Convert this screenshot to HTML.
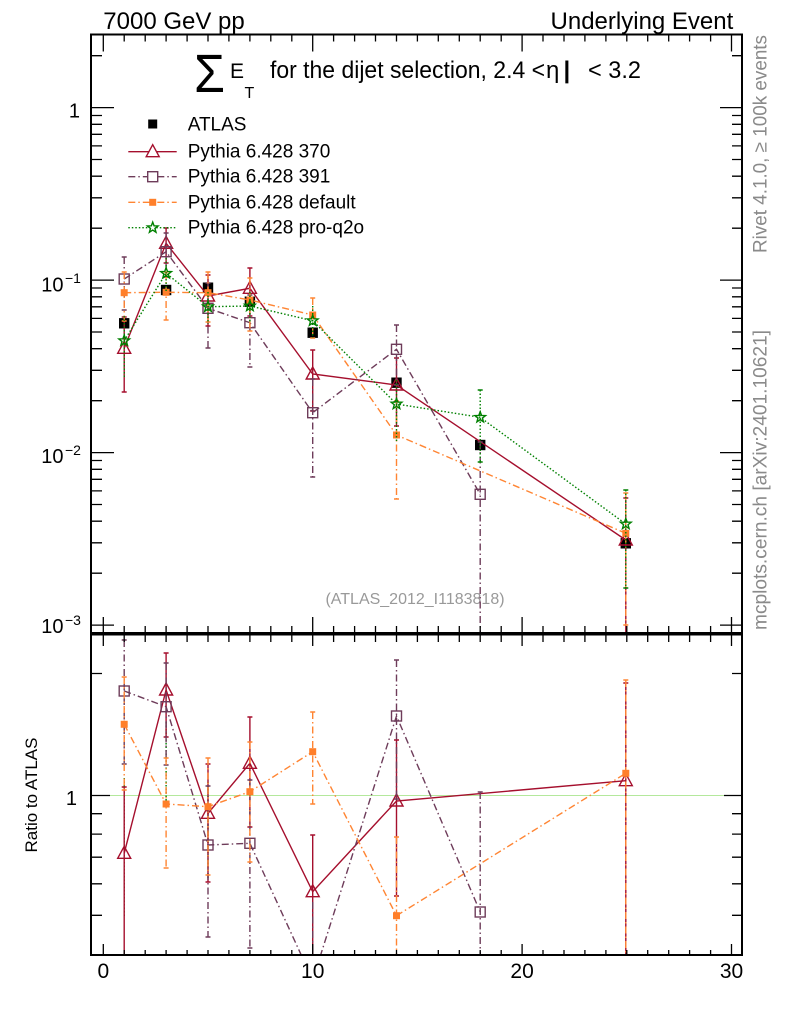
<!DOCTYPE html>
<html><head><meta charset="utf-8"><style>html,body{margin:0;padding:0;background:#fff;}svg{display:block;}</style></head>
<body>
<svg width="786" height="1024" viewBox="0 0 786 1024" xmlns="http://www.w3.org/2000/svg" font-family="'Liberation Sans', Arial, sans-serif">
<defs>
  <clipPath id="cm"><rect x="91" y="34.5" width="651" height="599"/></clipPath>
  <clipPath id="cr"><rect x="91" y="635" width="651" height="320"/></clipPath>
  <path id="tri" d="M0,-7 L6.5,5 L-6.5,5 Z"/>
  <rect id="osq" x="-5" y="-5" width="10" height="10"/>
  <rect id="fsq" x="-3.5" y="-3.5" width="7" height="7"/>
  <rect id="bsq" x="-5.2" y="-5.2" width="10.4" height="10.4"/>
  <path id="star" d="M0,-5.6 L1.37,-1.88 L5.33,-1.73 L2.22,0.72 L3.29,4.53 L0,2.33 L-3.29,4.53 L-2.22,0.72 L-5.33,-1.73 L-1.37,-1.88 Z"/>
</defs>
<rect width="786" height="1024" fill="#fff"/>

<!-- header texts -->
<text x="103.3" y="29" font-size="24" fill="#000">7000 GeV pp</text>
<text x="733.3" y="29" font-size="24" fill="#000" text-anchor="end">Underlying Event</text>

<!-- title -->
<text x="194" y="92" font-size="54" fill="#000" textLength="31" lengthAdjust="spacingAndGlyphs">Σ</text>
<text x="230" y="78" font-size="21" fill="#000">E</text>
<text x="244.5" y="98" font-size="16" fill="#000">T</text>
<text x="270" y="78" font-size="24" fill="#000" textLength="275" lengthAdjust="spacingAndGlyphs">for the dijet selection, 2.4 &lt;</text>
<text x="546" y="78" font-size="24" fill="#000">η</text>
<text x="563.5" y="78" font-size="24" fill="#000" font-weight="bold">|</text>
<text x="588" y="78" font-size="24" fill="#000" textLength="53" lengthAdjust="spacingAndGlyphs">&lt; 3.2</text>

<!-- right side texts -->
<text transform="translate(766.5,144) rotate(-90)" text-anchor="middle" font-size="19" fill="#8a8a8a" textLength="218" lengthAdjust="spacingAndGlyphs">Rivet 4.1.0, ≥ 100k events</text>
<text transform="translate(766.5,480) rotate(-90)" text-anchor="middle" font-size="19" fill="#8a8a8a" textLength="300" lengthAdjust="spacingAndGlyphs">mcplots.cern.ch [arXiv:2401.10621]</text>

<!-- ratio y label -->
<text transform="translate(37,795) rotate(-90)" text-anchor="middle" font-size="17" fill="#000">Ratio to ATLAS</text>

<!-- main y tick labels -->
<text x="80" y="117.3" font-size="20" text-anchor="end">1</text>
<text x="63.5" y="291.5" font-size="20" text-anchor="end">10</text>
<text x="65" y="283" font-size="14">−1</text>
<text x="63.5" y="463" font-size="20" text-anchor="end">10</text>
<text x="65" y="455" font-size="14">−2</text>
<text x="63.5" y="633" font-size="20" text-anchor="end">10</text>
<text x="65" y="625" font-size="14">−3</text>

<!-- ratio y label 1 -->
<text x="77" y="805" font-size="20" text-anchor="end">1</text>

<!-- x tick labels -->
<text x="103.3" y="978" font-size="21" text-anchor="middle">0</text>
<text x="312.7" y="978" font-size="21" text-anchor="middle">10</text>
<text x="522.1" y="978" font-size="21" text-anchor="middle">20</text>
<text x="731.5" y="978" font-size="21" text-anchor="middle">30</text>

<!-- reference text -->
<text x="415" y="604" font-size="16" fill="#999" text-anchor="middle">(ATLAS_2012_I1183818)</text>

<!-- ratio reference line -->
<line x1="91" y1="795.5" x2="742" y2="795.5" stroke="#b4e89c" stroke-width="1"/>

<!-- MAIN PANEL DATA -->
<g clip-path="url(#cm)">
  <!-- ATLAS -->
  <g fill="#000">
    <use href="#bsq" x="124.2" y="323.3"/>
    <use href="#bsq" x="166.1" y="290"/>
    <use href="#bsq" x="208" y="287.7"/>
    <use href="#bsq" x="249.9" y="301.7"/>
    <use href="#bsq" x="312.7" y="332.7"/>
    <use href="#bsq" x="396.5" y="382.7"/>
    <use href="#bsq" x="480.2" y="445"/>
    <use href="#bsq" x="625.8" y="543.3"/>
  </g>
  <!-- 370 -->
  <g stroke="#a50f2d" stroke-width="1.4" fill="none">
    <polyline points="124.2,348.3 166.1,243.3 208,296 249.9,288.3 312.7,374 396.5,385 625.8,540"/>
    <path d="M124.2 317V392M121.7 317h5M121.7 392h5 M166.1 228V263M163.6 228h5M163.6 263h5 M208 275V326M205.5 275h5M205.5 326h5 M249.9 268V316M247.4 268h5M247.4 316h5 M312.7 350V411M310.2 350h5M310.2 411h5 M396.5 358V426M394 358h5M394 426h5 M625.8 498V640M623.3 498h5"/>
    <use href="#tri" x="124.2" y="348.3"/>
    <use href="#tri" x="166.1" y="243.3"/>
    <use href="#tri" x="208" y="296"/>
    <use href="#tri" x="249.9" y="288.3"/>
    <use href="#tri" x="312.7" y="374"/>
    <use href="#tri" x="396.5" y="385"/>
    <use href="#tri" x="625.8" y="540"/>
  </g>
  <!-- 391 -->
  <g stroke="#6e3c5a" stroke-width="1.4" fill="none">
    <polyline stroke-dasharray="7,3,1.5,3" points="124.2,279 166.1,251.7 208,308.3 249.9,322.7 312.7,412.7 396.5,349.3 480.2,494.3"/>
    <path stroke-dasharray="7,3,1.5,3" d="M124.2 257V310 M166.1 233V277 M208 283V348 M249.9 295V367 M312.7 379V477 M396.5 325V385 M480.2 442V640"/>
    <path d="M121.7 257h5M121.7 310h5M163.6 233h5M163.6 277h5M205.5 283h5M205.5 348h5M247.4 295h5M247.4 367h5M310.2 379h5M310.2 477h5M394 325h5M394 385h5M477.7 442h5"/>
    <use href="#osq" x="124.2" y="279"/>
    <use href="#osq" x="166.1" y="251.7"/>
    <use href="#osq" x="208" y="308.3"/>
    <use href="#osq" x="249.9" y="322.7"/>
    <use href="#osq" x="312.7" y="412.7"/>
    <use href="#osq" x="396.5" y="349.3"/>
    <use href="#osq" x="480.2" y="494.3"/>
  </g>
  <!-- default -->
  <g stroke="#ff8533" stroke-width="1.4" fill="none">
    <polyline stroke-dasharray="7,3,1.5,3" points="124.2,292.7 166.1,292.3 208,292.7 249.9,300 312.7,315 396.5,435 625.8,533.3"/>
    <path stroke-dasharray="7,3,1.5,3" d="M124.2 272V321 M166.1 272V320 M208 272V322 M249.9 278V331 M312.7 298V338 M396.5 401V499 M625.8 493V625"/>
    <path d="M121.7 272h5M121.7 321h5M163.6 272h5M163.6 320h5M205.5 272h5M205.5 322h5M247.4 278h5M247.4 331h5M310.2 298h5M310.2 338h5M394 401h5M394 499h5M623.3 493h5M623.3 625h5"/>
  </g>
  <g fill="#ff7f2a">
    <use href="#fsq" x="124.2" y="292.7"/>
    <use href="#fsq" x="166.1" y="292.3"/>
    <use href="#fsq" x="208" y="292.7"/>
    <use href="#fsq" x="249.9" y="300"/>
    <use href="#fsq" x="312.7" y="315"/>
    <use href="#fsq" x="396.5" y="435"/>
    <use href="#fsq" x="625.8" y="533.3"/>
  </g>
  <!-- pro-q2o -->
  <g stroke="#008000" stroke-width="1.4" fill="none">
    <polyline stroke-dasharray="1.5,2" points="124.2,340.7 166.1,273.3 208,306.7 249.9,306 312.7,320.7 396.5,404 480.2,417.3 625.8,524"/>
    <path stroke-dasharray="1.5,2" d="M124.2 316V378 M166.1 258V292 M208 292V324 M249.9 292V322 M312.7 306V338 M396.5 380V442 M480.2 390V462 M625.8 490V588"/>
    <path d="M477.7 390h5M477.7 462h5M623.3 490h5M623.3 588h5"/>
    <use href="#star" x="124.2" y="340.7"/>
    <use href="#star" x="166.1" y="273.3"/>
    <use href="#star" x="208" y="306.7"/>
    <use href="#star" x="249.9" y="306"/>
    <use href="#star" x="312.7" y="320.7"/>
    <use href="#star" x="396.5" y="404"/>
    <use href="#star" x="480.2" y="417.3"/>
    <use href="#star" x="625.8" y="524"/>
  </g>
</g>

<!-- RATIO PANEL DATA -->
<g clip-path="url(#cr)">
  <path stroke="#008000" stroke-width="1.4" fill="none" stroke-dasharray="1.5,2" d="M124.2 778V918 M166.1 722V801 M208 782V878"/>
  <!-- 370 -->
  <g stroke="#a50f2d" stroke-width="1.4" fill="none">
    <polyline points="124.2,853.3 166.1,690 208,813.3 249.9,763.3 312.7,891.7 396.5,801 625.8,780.7"/>
    <path d="M124.2 787V960M121.7 787h5 M166.1 653V737M163.6 653h5M163.6 737h5 M208 764V882M205.5 764h5M205.5 882h5 M249.9 717V827M247.4 717h5M247.4 827h5 M312.7 835V960M310.2 835h5 M396.5 740V896M394 740h5M394 896h5 M625.8 683V960M623.3 683h5"/>
    <use href="#tri" x="124.2" y="853.3"/>
    <use href="#tri" x="166.1" y="690"/>
    <use href="#tri" x="208" y="813.3"/>
    <use href="#tri" x="249.9" y="763.3"/>
    <use href="#tri" x="312.7" y="891.7"/>
    <use href="#tri" x="396.5" y="801"/>
    <use href="#tri" x="625.8" y="780.7"/>
  </g>
  <!-- 391 -->
  <g stroke="#6e3c5a" stroke-width="1.4" fill="none">
    <polyline stroke-dasharray="7,3,1.5,3" points="124.2,691 166.1,706.7 208,845 249.9,843.3 312.7,980 396.5,716 480.2,912"/>
    <path stroke-dasharray="7,3,1.5,3" d="M124.2 640V764 M166.1 663V765 M208 786V937 M249.9 780V948 M312.7 902V960 M396.5 660V799 M480.2 792V960"/>
    <path d="M121.7 640h5M121.7 764h5M163.6 663h5M163.6 765h5M205.5 786h5M205.5 937h5M247.4 780h5M247.4 948h5M394 660h5M394 799h5M477.7 792h5"/>
    <use href="#osq" x="124.2" y="691"/>
    <use href="#osq" x="166.1" y="706.7"/>
    <use href="#osq" x="208" y="845"/>
    <use href="#osq" x="249.9" y="843.3"/>
    <use href="#osq" x="396.5" y="716"/>
    <use href="#osq" x="480.2" y="912"/>
  </g>
  <!-- default -->
  <g stroke="#ff8533" stroke-width="1.4" fill="none">
    <polyline stroke-dasharray="7,3,1.5,3" points="124.2,724.3 166.1,804 208,806.7 249.9,791.7 312.7,751.7 396.5,915.7 625.8,773.3"/>
    <path stroke-dasharray="7,3,1.5,3" d="M124.2 677V790 M166.1 758V868 M208 758V875 M249.9 742V862 M312.7 712V804 M396.5 837V960 M625.8 680V960"/>
    <path d="M121.7 677h5M121.7 790h5M163.6 758h5M163.6 868h5M205.5 758h5M205.5 875h5M247.4 742h5M247.4 862h5M310.2 712h5M310.2 804h5M394 837h5M623.3 680h5"/>
  </g>
  <g fill="#ff7f2a">
    <use href="#fsq" x="124.2" y="724.3"/>
    <use href="#fsq" x="166.1" y="804"/>
    <use href="#fsq" x="208" y="806.7"/>
    <use href="#fsq" x="249.9" y="791.7"/>
    <use href="#fsq" x="312.7" y="751.7"/>
    <use href="#fsq" x="396.5" y="915.7"/>
    <use href="#fsq" x="625.8" y="773.3"/>
  </g>
</g>

<!-- LEGEND -->
<g>
  <rect x="148.2" y="119.5" width="9" height="9" fill="#000"/>
  <text x="187.7" y="130.5" font-size="19">ATLAS</text>

  <line x1="128.3" y1="151.7" x2="176.7" y2="151.7" stroke="#a50f2d" stroke-width="1.4"/>
  <use href="#tri" x="152.7" y="151.7" fill="#fff" stroke="#a50f2d" stroke-width="1.4"/>
  <text x="187.7" y="157.7" font-size="19">Pythia 6.428 370</text>

  <line x1="128.3" y1="176.7" x2="176.7" y2="176.7" stroke="#6e3c5a" stroke-width="1.4" stroke-dasharray="7,3,1.5,3"/>
  <use href="#osq" x="152.7" y="176.7" fill="#fff" stroke="#6e3c5a" stroke-width="1.4"/>
  <text x="187.7" y="182.7" font-size="19">Pythia 6.428 391</text>

  <line x1="128.3" y1="202.3" x2="176.7" y2="202.3" stroke="#ff8533" stroke-width="1.4" stroke-dasharray="7,3,1.5,3"/>
  <use href="#fsq" x="152.7" y="202.3" fill="#ff7f2a"/>
  <text x="187.7" y="208.3" font-size="19">Pythia 6.428 default</text>

  <line x1="128.3" y1="227.7" x2="176.7" y2="227.7" stroke="#008000" stroke-width="1.4" stroke-dasharray="1.5,2"/>
  <use href="#star" x="152.7" y="227.7" fill="#fff" stroke="#008000" stroke-width="1.4"/>
  <text x="187.7" y="233.7" font-size="19">Pythia 6.428 pro-q2o</text>
</g>

<!-- FRAMES -->
<rect x="91" y="34.5" width="651" height="598.5" fill="none" stroke="#000" stroke-width="2"/>
<rect x="91" y="634.5" width="651" height="320.5" fill="none" stroke="#000" stroke-width="2"/>

<!-- TICKS -->
<g stroke="#000" stroke-width="1.3" fill="none">
  <path d="M103.3 34.5v17M312.7 34.5v17M522.1 34.5v17M731.5 34.5v17"/>
  <path d="M124.2 34.5v7M145.2 34.5v7M166.1 34.5v7M187.1 34.5v7M208 34.5v7M228.9 34.5v7M249.9 34.5v7M270.8 34.5v7M291.8 34.5v7M333.6 34.5v7M354.6 34.5v7M375.5 34.5v7M396.5 34.5v7M417.4 34.5v7M438.3 34.5v7M459.3 34.5v7M480.2 34.5v7M501.2 34.5v7M543 34.5v7M564 34.5v7M584.9 34.5v7M605.9 34.5v7M626.8 34.5v7M647.7 34.5v7M668.7 34.5v7M689.6 34.5v7M710.6 34.5v7"/>
  <path d="M103.3 633v-16M312.7 633v-16M522.1 633v-16M731.5 633v-16"/>
  <path d="M124.2 633v-7M145.2 633v-7M166.1 633v-7M187.1 633v-7M208 633v-7M228.9 633v-7M249.9 633v-7M270.8 633v-7M291.8 633v-7M333.6 633v-7M354.6 633v-7M375.5 633v-7M396.5 633v-7M417.4 633v-7M438.3 633v-7M459.3 633v-7M480.2 633v-7M501.2 633v-7M543 633v-7M564 633v-7M584.9 633v-7M605.9 633v-7M626.8 633v-7M647.7 633v-7M668.7 633v-7M689.6 633v-7M710.6 633v-7"/>
  <path d="M103.3 635v11M312.7 635v11M522.1 635v11M731.5 635v11"/>
  <path d="M124.2 635v7M145.2 635v7M166.1 635v7M187.1 635v7M208 635v7M228.9 635v7M249.9 635v7M270.8 635v7M291.8 635v7M333.6 635v7M354.6 635v7M375.5 635v7M396.5 635v7M417.4 635v7M438.3 635v7M459.3 635v7M480.2 635v7M501.2 635v7M543 635v7M564 635v7M584.9 635v7M605.9 635v7M626.8 635v7M647.7 635v7M668.7 635v7M689.6 635v7M710.6 635v7"/>
  <path d="M103.3 955v-11M312.7 955v-11M522.1 955v-11M731.5 955v-11"/>
  <path d="M124.2 955v-5M145.2 955v-5M166.1 955v-5M187.1 955v-5M208 955v-5M228.9 955v-5M249.9 955v-5M270.8 955v-5M291.8 955v-5M333.6 955v-5M354.6 955v-5M375.5 955v-5M396.5 955v-5M417.4 955v-5M438.3 955v-5M459.3 955v-5M480.2 955v-5M501.2 955v-5M543 955v-5M564 955v-5M584.9 955v-5M605.9 955v-5M626.8 955v-5M647.7 955v-5M668.7 955v-5M689.6 955v-5M710.6 955v-5"/>
  <path d="M91 107.6h23M91 280.1h23M91 452.6h23M91 625.1h23"/>
  <path d="M91 55.7h11M91 228.2h11M91 197.8h11M91 176.2h11M91 159.5h11M91 145.9h11M91 134.3h11M91 124.3h11M91 115.5h11M91 400.7h11M91 370.3h11M91 348.7h11M91 332h11M91 318.4h11M91 306.8h11M91 296.8h11M91 288h11M91 573.2h11M91 542.8h11M91 521.2h11M91 504.5h11M91 490.9h11M91 479.3h11M91 469.3h11M91 460.5h11"/>
  <path d="M742 107.6h-22M742 280.1h-22M742 452.6h-22M742 625.1h-22"/>
  <path d="M742 55.7h-10M742 228.2h-10M742 197.8h-10M742 176.2h-10M742 159.5h-10M742 145.9h-10M742 134.3h-10M742 124.3h-10M742 115.5h-10M742 400.7h-10M742 370.3h-10M742 348.7h-10M742 332h-10M742 318.4h-10M742 306.8h-10M742 296.8h-10M742 288h-10M742 573.2h-10M742 542.8h-10M742 521.2h-10M742 504.5h-10M742 490.9h-10M742 479.3h-10M742 469.3h-10M742 460.5h-10"/>
  <path d="M91 795.5h19M742 795.5h-18"/>
  <path d="M91 673.5h11M91 813.7h11M91 834.1h11M91 857.2h11M91 883.8h11M91 915.3h11M742 673.5h-10M742 813.7h-10M742 834.1h-10M742 857.2h-10M742 883.8h-10M742 915.3h-10"/>
</g>
</svg>
</body></html>
